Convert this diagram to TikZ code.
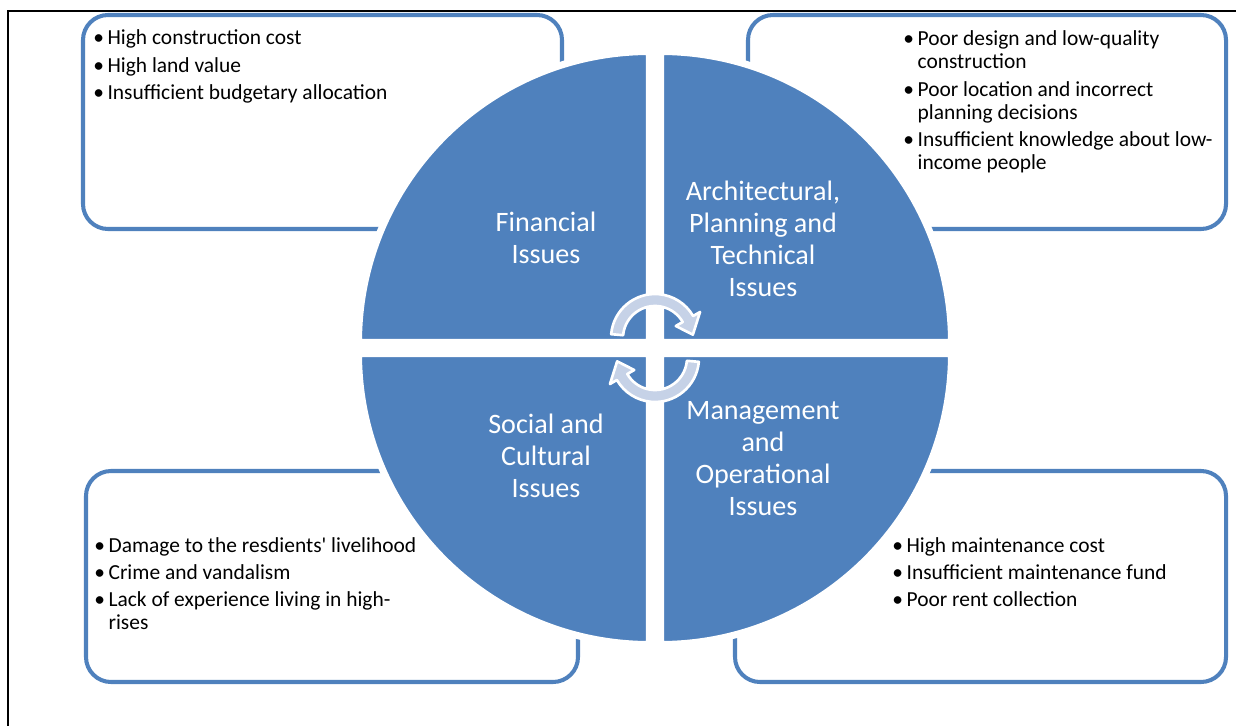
\documentclass[tikz,border=0pt]{standalone}
\usepackage{fontspec}
\setmainfont{Carlito}
\usepackage{xcolor}
\usepackage{tikz}
\usetikzlibrary{calc}
\definecolor{ofblue}{RGB}{79,129,189}
\definecolor{cycfill}{RGB}{198,210,231}
\newcommand{\lstfont}{\fontsize{12.2}{13}\selectfont}
\newcommand{\lblfont}{\fontsize{16}{18.2}\selectfont}
\newcommand{\bul}{•\,}

\begin{document}
\begin{tikzpicture}[x=0.02cm,y=-0.02cm,
    box/.style={draw=ofblue,line width=2.3pt,rounded corners=0.5cm,fill=white},
    quad/.style={fill=ofblue,draw=white,line width=4pt},
    lbl/.style={text=white,align=center,font=\lblfont},
    lst/.style={anchor=base west,inner sep=0pt,font=\lstfont},
    cyc/.style={fill=cycfill,draw=white,line width=1.5pt,line join=round}]
    \useasboundingbox (0,0) rectangle (1236,726);
    \draw[line width=1.2pt] (8,726) -- (8,11) -- (1236,11);
    % the four boxes
    \draw[box] (83,15) rectangle (562,229);
    \draw[box] (748,15) rectangle (1226,229);
    \draw[box] (86,471) rectangle (578,682);
    \draw[box] (735,471) rectangle (1226,682);
    % quarters of the circle
    \path[quad] (649.5,342.5) -- ++(-291,0) arc[start angle=180,end angle=270,radius=291] -- cycle;
    \path[quad] (660.5,342.5) -- ++(0,-291) arc[start angle=270,end angle=360,radius=291] -- cycle;
    \path[quad] (660.5,353.5) -- ++(291,0) arc[start angle=0,end angle=90,radius=291] -- cycle;
    \path[quad] (649.5,353.5) -- ++(0,291) arc[start angle=90,end angle=180,radius=291] -- cycle;
    % cycle arrows
    \coordinate (ua) at (655,338);
    \coordinate (la) at (655,358);
    \path[cyc] ($(ua)+(-175:44)$) arc[start angle=-175,end angle=-30,radius=44]
        -- ($(ua)+(-30:52)$) -- ($(ua)+(-5:38)$) -- ($(ua)+(-30:24)$)
        -- ($(ua)+(-30:32)$) arc[start angle=-30,end angle=-175,radius=32] -- cycle;
    \path[cyc] ($(la)+(5:44)$) arc[start angle=5,end angle=150,radius=44]
        -- ($(la)+(150:52)$) -- ($(la)+(175:38)$) -- ($(la)+(150:24)$)
        -- ($(la)+(150:32)$) arc[start angle=150,end angle=5,radius=32] -- cycle;
    % labels
    \node[lbl] (fin) at (546,238) {Financial\\Issues};
    \node[lbl] (arch) at (763,238.5) {Architectural,\\Planning and\\Technical\\Issues};
    \node[lbl] (soc) at (546,456) {Social and\\Cultural\\Issues};
    \node[lbl] (mgmt) at (763,458.5) {Management\\and\\Operational\\Issues};
    % bullet lists
    \node[lst] (finlst) at (93,45) {\begin{tabular}[t]{@{}l@{}l@{}}
        \bul&High construction cost\\[2.6pt]
        \bul&High land value\\[2.6pt]
        \bul&Insufficient budgetary allocation\end{tabular}};
    \node[lst] (archlst) at (903,46) {\begin{tabular}[t]{@{}l@{}l@{}}
        \bul&Poor design and low-quality\\ &construction\\[2.6pt]
        \bul&Poor location and incorrect\\ &planning decisions\\[2.6pt]
        \bul&Insufficient knowledge about low-\\ &income people\end{tabular}};
    \node[lst] (soclst) at (94,552) {\begin{tabular}[t]{@{}l@{}l@{}}
        \bul&Damage to the resdients\textquotesingle\ livelihood\\[2.6pt]
        \bul&Crime and vandalism\\[2.6pt]
        \bul&Lack of experience living in high-\\ &rises\end{tabular}};
    \node[lst] (mgmtlst) at (892,552) {\begin{tabular}[t]{@{}l@{}l@{}}
        \bul&High maintenance cost\\[2.6pt]
        \bul&Insufficient maintenance fund\\[2.6pt]
        \bul&Poor rent collection\end{tabular}};
\end{tikzpicture}
\end{document}
